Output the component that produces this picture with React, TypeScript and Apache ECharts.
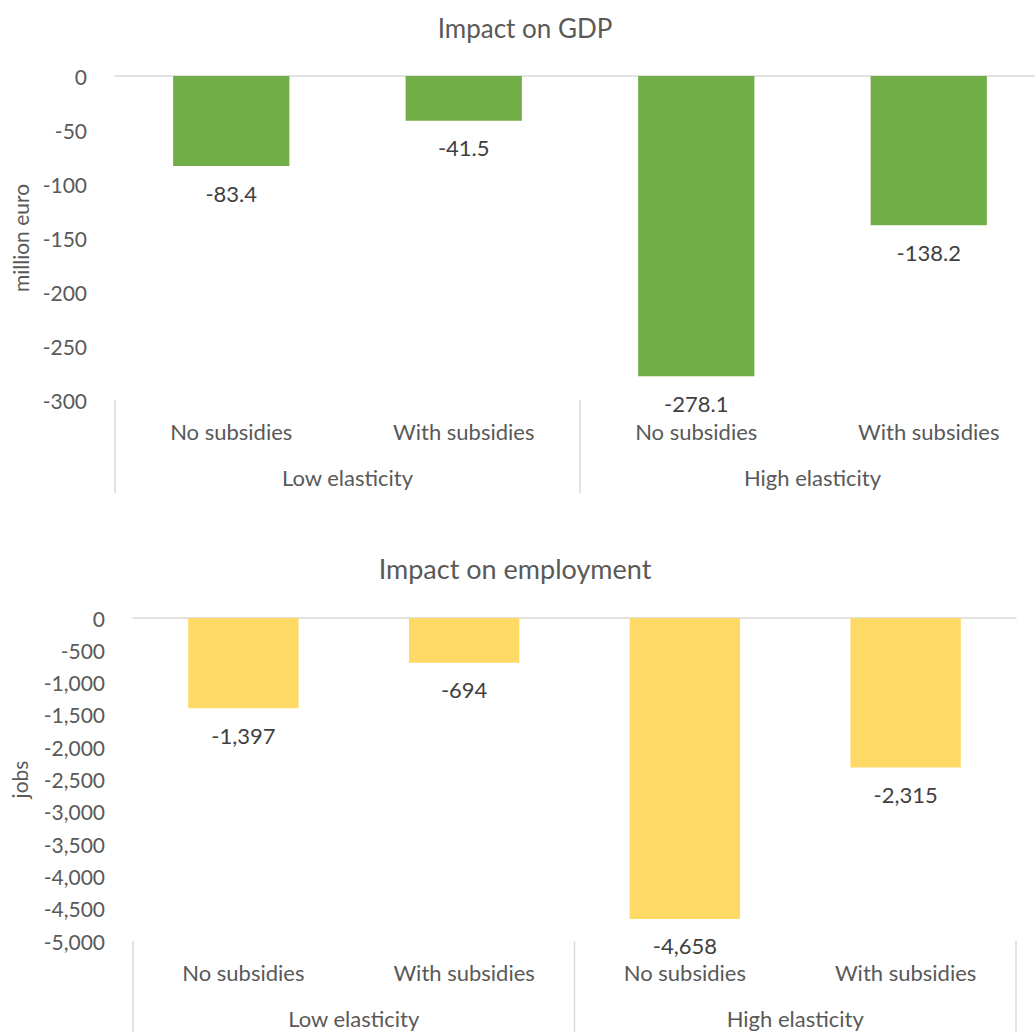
import React, { useEffect, useRef } from "react";
import * as echarts from "echarts";

const subCategories = ["No subsidies", "With subsidies", "No subsidies", "With subsidies"];
const groups = ["Low elasticity", "High elasticity"];
const groupBoundaries = [0, 2, 4]; // in sub-category units
const gdpValues = [-83.4, -41.5, -278.1, -138.2];
const jobsValues = [-1397, -694, -4658, -2315];
const gdpAxis = { min: -300, max: 0, interval: 50 };
const jobsAxis = { min: -5000, max: 0, interval: 500 };
const titles = ["Impact on GDP", "Impact on employment"];
const axisNames = ["million euro", "jobs"];

const FONT = "Lato";
const AXIS_TEXT = "#595959";
const LABEL_TEXT = "#404040";
const LINE = "#D9D9D9";
const FS = 21;
const CAT_FS = 22;

const fmt = (v: number) => v.toLocaleString("en-US");

export default function App() {
  const ref = useRef<HTMLDivElement>(null);
  useEffect(() => {
    if (!ref.current) return;
    const chart = echarts.init(ref.current, undefined, { renderer: "svg" });

    const grids = [
      { left: 115, right: -10, top: 76, height: 324, containLabel: false, outerBoundsMode: "none" },
      { left: 133, right: 19, top: 618, height: 323, containLabel: false, outerBoundsMode: "none" },
    ];
    const tickLen = [93, 95];

    const xAxis: any[] = [];
    const yAxis: any[] = [];
    const axes = [gdpAxis, jobsAxis];
    grids.forEach((g, i) => {
      xAxis.push({
        type: "category",
        gridIndex: i,
        position: "bottom",
        data: subCategories,
        axisLine: { show: false },
        axisTick: { show: false },
        axisLabel: { margin: 20, fontSize: CAT_FS, color: AXIS_TEXT, fontFamily: FONT, interval: 0 },
      });
      xAxis.push({
        type: "category",
        gridIndex: i,
        position: "bottom",
        data: groups,
        axisLine: { show: false },
        axisTick: { show: false },
        axisLabel: { margin: 66, fontSize: CAT_FS, color: AXIS_TEXT, fontFamily: FONT, interval: 0 },
      });
      xAxis.push({
        type: "category",
        gridIndex: i,
        position: "top",
        data: subCategories,
        axisLine: { show: true, lineStyle: { color: LINE, width: 1.5 } },
        axisTick: { show: false },
        axisLabel: { show: false },
      });
      yAxis.push({
        type: "value",
        gridIndex: i,
        min: axes[i].min,
        max: axes[i].max,
        interval: axes[i].interval,
        axisLine: { show: false },
        axisTick: { show: false },
        splitLine: { show: false },
        axisLabel: { margin: 28, fontSize: FS, color: AXIS_TEXT, fontFamily: FONT, formatter: (v: number) => fmt(v) },
        name: axisNames[i],
        nameLocation: "middle",
        nameRotate: 90,
        nameGap: i === 0 ? 84 : 103,
        nameTextStyle: { fontSize: FS, color: AXIS_TEXT, fontFamily: FONT },
      });
    });

    const mkSeries = (data: number[], i: number, color: string) => ({
      type: "bar",
      xAxisIndex: i * 3,
      yAxisIndex: i,
      data,
      barWidth: "50%",
      itemStyle: { color },
      label: {
        show: true,
        position: "outside",
        distance: 16,
        fontSize: CAT_FS,
        color: LABEL_TEXT,
        fontFamily: FONT,
        formatter: (p: any) => fmt(p.value),
      },
    });

    const mkSeparators = (i: number) => ({
      type: "custom",
      xAxisIndex: i * 3,
      yAxisIndex: i,
      clip: false,
      silent: true,
      data: groupBoundaries.map(() => [0, axes[i].min]),
      renderItem: (params: any, api: any) => {
        const b = groupBoundaries[params.dataIndex];
        const p = api.coord([0, axes[i].min]);
        const w = api.size([1, 0])[0];
        const x = p[0] - w / 2 + b * w;
        return {
          type: "line",
          shape: { x1: x, y1: p[1], x2: x, y2: p[1] + tickLen[i] },
          style: { stroke: LINE, lineWidth: 1.5 },
        };
      },
    });

    chart.setOption({
      animation: false,
      textStyle: { fontFamily: FONT },
      grid: grids,
      xAxis,
      yAxis,
      series: [
        mkSeries(gdpValues, 0, "#70AD47"),
        mkSeries(jobsValues, 1, "#FFD966"),
        mkSeparators(0),
        mkSeparators(1),
      ],
      graphic: [
        {
          type: "text",
          x: 525,
          y: 28,
          style: { text: titles[0], fontSize: 26, fill: AXIS_TEXT, fontFamily: FONT, textAlign: "center", textVerticalAlign: "middle" },
        },
        {
          type: "text",
          x: 515,
          y: 568,
          style: { text: titles[1], fontSize: 27, fill: AXIS_TEXT, fontFamily: FONT, textAlign: "center", textVerticalAlign: "middle" },
        },
      ],
    });
    return () => chart.dispose();
  }, []);
  return <div ref={ref} style={{ position: "absolute", left: 0, top: 0, width: 1035, height: 1032 }} />;
}
